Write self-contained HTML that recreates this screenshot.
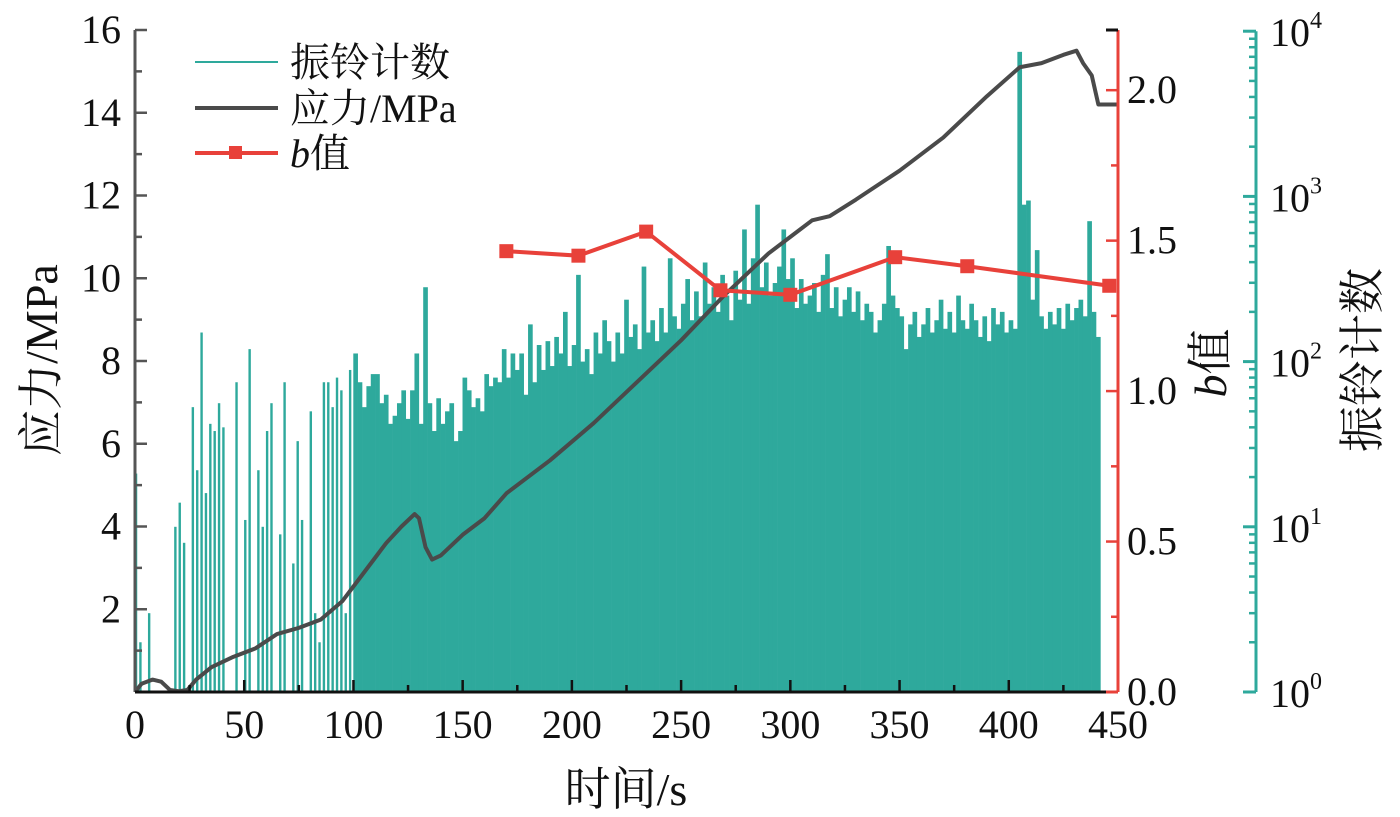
<!DOCTYPE html>
<html><head><meta charset="utf-8"><style>
html,body{margin:0;padding:0;background:#fff;}
svg{display:block;}
text{font-family:"Liberation Serif","Noto Serif CJK SC",serif;fill:#111;}
</style></head><body>
<svg id="chart" width="1400" height="817" viewBox="0 0 1400 817" xmlns="http://www.w3.org/2000/svg">
<g id="bars"></g>
<g id="stress"></g>
<g id="bser"></g>
<g id="axes"></g>
<g>
<line x1="195" y1="62" x2="278" y2="62" stroke="#2ea99c" stroke-width="2"/>
<text x="290" y="76" font-size="40">振铃计数</text>
<line x1="195" y1="108" x2="278" y2="108" stroke="#4a4a4a" stroke-width="4"/>
<text x="290" y="122" font-size="40">应力/MPa</text>
<line x1="195" y1="153" x2="278" y2="153" stroke="#e8413a" stroke-width="4"/>
<rect x="229" y="146" width="13" height="13" fill="#e8413a"/>
<text x="290" y="167" font-size="40"><tspan font-style="italic">b</tspan>值</text>
</g>
<text x="626" y="805" font-size="46" text-anchor="middle">时间/s</text>
<text transform="translate(57,360) rotate(-90)" font-size="46" text-anchor="middle">应力/MPa</text>
<text transform="translate(1226,363) rotate(-90)" font-size="46" text-anchor="middle"><tspan font-style="italic">b</tspan>值</text>
<text transform="translate(1378,360) rotate(-90)" font-size="46" text-anchor="middle">振铃计数</text>
</svg>
<script>
const ringTimes0 = 0; const ringStep = 2;
const ringCounts = [21,2,0,3,0,0,0,0,0,10,14,8,0,53,22,150,16,42,38,56,40,0,0,75,0,11,119,0,22,10,38,56,0,9,75,0,6,33,11,0,50,3,2,75,75,53,80,67,3,89,
112,75,53,71,84,84,56,63,42,47,56,67,45,67,112,42,282,56,38,60,42,50,56,33,38,80,67,53,60,50,84,71,
80,75,119,80,112,89,112,63,168,75,126,89,133,94,141,112,200,94,126,335,100,119,84,150,112,178,133,100,150,112,237,141,168,119,376,150,178,133,211,150,422,188,158,224,316,178,266,188,398,224,282,200,335,251,178,355,237,631,224,422,891,282,398,251,299,376,631,316,422,211,316,224,251,299,200,335,447,211,282,188,237,282,200,266,178,224,200,150,178,224,501,251,211,188,119,168,200,141,168,211,150,178,237,158,200,150,251,178,158,224,178,141,188,133,211,168,200,150,178,158,7499,891,944,237,473,188,158,200,168,211,158,224,178,211,237,188,708,200,141];
const stressT = [0,3,8,12,16,20,24,28,35,45,55,65,75,85,95,105,115,122,128,130,133,136,140,150,160,170,190,210,230,250,270,290,300,310,318,330,350,370,390,405,415,425,431,434,438,441,445,450];
const stressV = [0,0.2,0.3,0.25,0.05,0.02,0.05,0.3,0.6,0.85,1.05,1.4,1.55,1.75,2.2,2.9,3.6,4.0,4.3,4.2,3.5,3.2,3.3,3.8,4.2,4.8,5.6,6.5,7.5,8.5,9.6,10.6,11.0,11.4,11.5,11.9,12.6,13.4,14.4,15.1,15.2,15.4,15.5,15.2,14.9,14.2,14.2,14.2];
const bT = [170,203,234,268,300,348,381,446];
const bV = [1.465,1.45,1.53,1.335,1.32,1.445,1.415,1.35];
const xTicks = ["0","50","100","150","200","250","300","350","400","450"];
const yTicks = ["2","4","6","8","10","12","14","16"];
const bTicks = ["0.0","0.5","1.0","1.5","2.0"];
const logTicks = ["0","1","2","3","4"];

const NS="http://www.w3.org/2000/svg";
const X0=135,X1=1118,YB=692,YT=30;
const sx=t=>X0+(X1-X0)*t/450;
const sy=v=>YB-(YB-YT)*v/16;
const sb=b=>YB-(YB-YT)*b/2.2;
const sl=c=>YB-165.2*Math.log10(c);
function mk(tag,attrs,parent){const e=document.createElementNS(NS,tag);for(const k in attrs)e.setAttribute(k,attrs[k]);parent.appendChild(e);return e;}

const gb=document.getElementById('bars');
let bw=(sx(ringStep)-sx(0))+0.3;
ringCounts.forEach((c,i)=>{ if(c<1.01) return;
  const t=ringTimes0+i*ringStep; const y=sl(c);
  const r=mk('rect',{x:sx(t)-0.15,y:y,width:(i<50?2.4:bw),height:YB-y,fill:'#2ea99c'},gb);
  
  
});

const gs=document.getElementById('stress');
const sp=mk('polyline',{points:stressT.map((t,i)=>sx(t)+','+sy(stressV[i])).join(' '),fill:'none',stroke:'#4a4a4a','stroke-width':4,'stroke-linejoin':'round'},gs);



const gbs=document.getElementById('bser');
const bl=mk('polyline',{points:bT.map((t,i)=>sx(t)+','+sb(bV[i])).join(' '),fill:'none',stroke:'#e8413a','stroke-width':4},gbs);


bT.forEach((t,i)=>{const m=mk('rect',{x:sx(t)-7,y:sb(bV[i])-7,width:14,height:14,fill:'#e8413a'},gbs);
  
  });

const ga=document.getElementById('axes');
let a=mk('line',{x1:X0,y1:YT,x2:X0,y2:YB,stroke:'#555','stroke-width':3},ga);


for(let v=1;v<=16;v++){const y=sy(v);mk('line',{x1:X0,y1:y,x2:X0+(v%2?7:12),y2:y,stroke:'#555','stroke-width':2.5},ga);}
yTicks.forEach(s=>{const t=mk('text',{x:X0-14,y:sy(+s)+13,'font-size':40,'text-anchor':'end'},ga);t.textContent=s;
  
  });
a=mk('line',{x1:X0,y1:YB,x2:X1,y2:YB,stroke:'#111','stroke-width':3},ga);


for(let t=25;t<450;t+=25){mk('line',{x1:sx(t),y1:YB,x2:sx(t),y2:YB-(t%50?7:12),stroke:'#111','stroke-width':2.5},ga);}
xTicks.forEach(s=>{const t=mk('text',{x:sx(+s),y:738,'font-size':40,'text-anchor':'middle'},ga);t.textContent=s;
  
  });
a=mk('line',{x1:X1,y1:YT,x2:X1,y2:YB,stroke:'#e8413a','stroke-width':3},ga);


mk('line',{x1:X1-12,y1:YT,x2:X1,y2:YT,stroke:'#111','stroke-width':3},ga);
mk('line',{x1:X1-12,y1:YB,x2:X1,y2:YB,stroke:'#e8413a','stroke-width':3},ga);
for(let k=1;k<=4;k++){const y=sb(k*0.5);mk('line',{x1:X1-12,y1:y,x2:X1,y2:y,stroke:'#e8413a','stroke-width':2.5},ga);
  const y2=sb(k*0.5-0.25);mk('line',{x1:X1-7,y1:y2,x2:X1,y2:y2,stroke:'#e8413a','stroke-width':2.5},ga);}
bTicks.forEach(s=>{const t=mk('text',{x:X1+9,y:sb(+s)+13,'font-size':40},ga);t.textContent=s;
  
  });
const XL=1256;
a=mk('line',{x1:XL,y1:sl(10000),x2:XL,y2:YB,stroke:'#2ea99c','stroke-width':3},ga);


for(let d=0;d<=4;d++){const y=sl(Math.pow(10,d));mk('line',{x1:XL-13,y1:y,x2:XL,y2:y,stroke:'#2ea99c','stroke-width':3},ga);
  if(d<4)for(let m=2;m<=9;m++){const ym=sl(m*Math.pow(10,d));mk('line',{x1:XL-7,y1:ym,x2:XL,y2:ym,stroke:'#2ea99c','stroke-width':2.5},ga);}}
logTicks.forEach(s=>{const t=mk('text',{x:XL+14,y:sl(Math.pow(10,+s))+15,'font-size':40},ga);
  t.innerHTML='10<tspan font-size="24" dy="-18">'+s+'</tspan>';
  
  });
</script>
</body></html>
